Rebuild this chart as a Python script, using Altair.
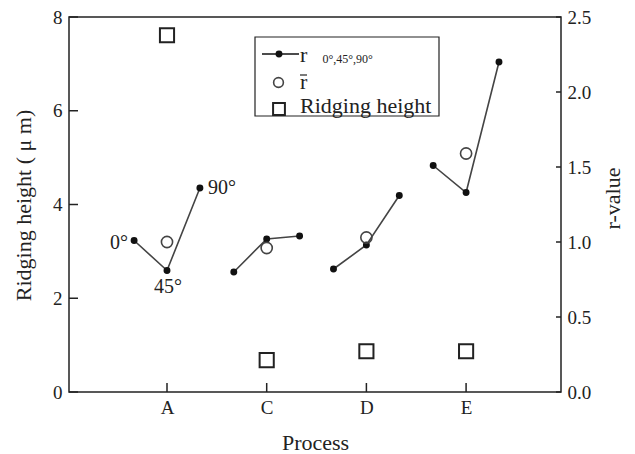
import altair as alt
import pandas as pd

# ---- data -------------------------------------------------------------
processes = ["A", "C", "D", "E"]
angles = ["0°", "45°", "90°"]
r_0 = [1.01, 0.80, 0.82, 1.51]
r_45 = [0.81, 1.02, 0.98, 1.33]
r_90 = [1.36, 1.04, 1.31, 2.20]
r_bar = [1.00, 0.96, 1.03, 1.59]
ridging_height = [7.61, 0.68, 0.87, 0.87]
left_ticks = [0, 2, 4, 6, 8]
right_ticks = [0.0, 0.5, 1.0, 1.5, 2.0, 2.5]

# ---- style ------------------------------------------------------------
FONT = "Liberation Serif"
INK = "#222222"
LINE = "#444444"
W, H = 492, 375
ANGLE_SHIFT = {"0°": -0.33, "45°": 0.0, "90°": 0.33}

rows = []
for i, p in enumerate(processes):
    for a, vals in zip(angles, (r_0, r_45, r_90)):
        rows.append({"process": p, "idx": i, "angle": a,
                     "pos": i + ANGLE_SHIFT[a], "r": vals[i]})
r_df = pd.DataFrame(rows)
summary = pd.DataFrame({"process": processes, "idx": list(range(len(processes))),
                        "rbar": r_bar, "ridge": ridging_height})
one = pd.DataFrame({"k": [0]})

x_scale = alt.Scale(domain=[-0.983, 3.952], nice=False, zero=False)
yl_scale = alt.Scale(domain=[0, 8], nice=False)
yr_scale = alt.Scale(domain=[0, 2.5], nice=False)

common = dict(domain=False, ticks=False, tickSize=0, grid=False,
              labelFont=FONT, labelFontSize=19, labelColor=INK,
              titleFont=FONT, titleFontSize=22, titleColor=INK,
              titleFontWeight="normal")

x_axis = alt.Axis(values=list(range(len(processes))),
                  labelExpr=f"{processes}[datum.value]",
                  labelPadding=6, title="Process",
                  titleX=W / 2, titleY=57, titleBaseline="alphabetic",
                  titleAlign="center", **common)
left_axis = alt.Axis(orient="left", values=left_ticks, format="d",
                     labelPadding=7, title="Ridging height ( μ m)",
                     titleAngle=270, titleX=-39, titleY=188,
                     titleBaseline="alphabetic", titleAlign="center", **common)
right_axis = alt.Axis(orient="right", values=right_ticks, format=".1f",
                      labelPadding=6, title="r-value",
                      titleAngle=270, titleX=58, titleY=181,
                      titleBaseline="alphabetic", titleAlign="center", **common)

X_idx = alt.X("idx:Q", scale=x_scale, axis=x_axis)
X_pos = alt.X("pos:Q", scale=x_scale, axis=x_axis)

# ---- left scale: ridging height ---------------------------------------
ridge_marks = alt.Chart(summary).mark_point(
    shape="square", size=200, filled=False, stroke=INK, strokeWidth=2, opacity=1
).encode(x=X_idx, y=alt.Y("ridge:Q", scale=yl_scale, axis=left_axis))

left_tick_marks = alt.Chart(pd.DataFrame({"v": left_ticks})).mark_rule(
    color=INK, strokeWidth=1.5
).encode(y=alt.Y("v:Q", scale=yl_scale, axis=left_axis),
         x=alt.value(0), x2=alt.value(9))

left_group = alt.layer(ridge_marks, left_tick_marks)

# ---- right scale: r-values --------------------------------------------
Y_r = alt.Y("r:Q", scale=yr_scale, axis=right_axis)

r_lines = alt.Chart(r_df).mark_line(color=LINE, strokeWidth=1.6).encode(
    x=X_pos, y=Y_r, detail="process:N", order="pos:Q")
r_dots = alt.Chart(r_df).mark_circle(size=48, color="#111111", opacity=1).encode(
    x=X_pos, y=Y_r)
rbar_marks = alt.Chart(summary).mark_point(
    shape="circle", size=125, filled=False, stroke=LINE, strokeWidth=1.6, opacity=1
).encode(x=X_idx, y=alt.Y("rbar:Q", scale=yr_scale, axis=right_axis))

first = r_df[r_df["process"] == processes[0]]
label_style = {
    "0°": dict(align="right", baseline="middle", dx=-6, dy=2),
    "45°": dict(align="center", baseline="top", dx=1, dy=6),
    "90°": dict(align="left", baseline="middle", dx=8, dy=0),
}
angle_labels = [
    alt.Chart(first[first["angle"] == a]).mark_text(
        font=FONT, fontSize=20, color=INK, **label_style[a]
    ).encode(x=X_pos, y=Y_r, text="angle:N")
    for a in angles
]

right_tick_marks = alt.Chart(pd.DataFrame({"v": right_ticks})).mark_rule(
    color=INK, strokeWidth=1.5
).encode(y=alt.Y("v:Q", scale=yr_scale, axis=right_axis),
         x=alt.value(W - 5), x2=alt.value(W))

x_tick_marks = alt.Chart(summary).mark_rule(color=INK, strokeWidth=1.5).encode(
    x=X_idx, y=alt.value(H - 9), y2=alt.value(H))

right_group = alt.layer(r_lines, r_dots, rbar_marks, *angle_labels,
                        right_tick_marks, x_tick_marks)

# ---- key box ----------------------------------------------------------
key_box = alt.Chart(one).mark_rect(fill="white", stroke=INK, strokeWidth=1.2).encode(
    x=alt.value(186), x2=alt.value(370), y=alt.value(20), y2=alt.value(99))
key_line = alt.Chart(one).mark_rule(color="#111111", strokeWidth=1.6).encode(
    x=alt.value(193), x2=alt.value(230), y=alt.value(37))
key_dot = alt.Chart(one).mark_circle(size=48, color="#111111", opacity=1).encode(
    x=alt.value(210), y=alt.value(37))
key_ring = alt.Chart(one).mark_point(
    shape="circle", size=95, filled=False, stroke=LINE, strokeWidth=1.6, opacity=1
).encode(x=alt.value(209.5), y=alt.value(65.5))
key_square = alt.Chart(one).mark_point(
    shape="square", size=140, filled=False, stroke=INK, strokeWidth=2, opacity=1
).encode(x=alt.value(210), y=alt.value(92))
key_bar = alt.Chart(one).mark_rule(color=INK, strokeWidth=1.2).encode(
    x=alt.value(231), x2=alt.value(238), y=alt.value(58), )


def key_text(txt, x, y, size=22):
    return alt.Chart(one).mark_text(
        text=txt, align="left", baseline="alphabetic", font=FONT,
        fontSize=size, color=INK
    ).encode(x=alt.value(x), y=alt.value(y))


key_group = alt.layer(
    key_box, key_line, key_dot, key_ring, key_square, key_bar,
    key_text("r", 231, 44.5),
    key_text("0°,45°,90°", 253.5, 46, size=12),
    key_text("r", 231, 71.5),
    key_text("Ridging height", 231, 96),
)

chart = alt.layer(left_group, right_group, key_group).resolve_scale(
    y="independent"
).properties(
    width=W, height=H,
    padding={"left": 69, "top": 17, "right": 74, "bottom": 62},
    autosize=alt.AutoSizeParams(type="none"),
).configure(
    font=FONT
).configure_view(stroke=INK, strokeWidth=1.5)

chart.save("out.html", embed_options={"renderer": "svg", "actions": False})
